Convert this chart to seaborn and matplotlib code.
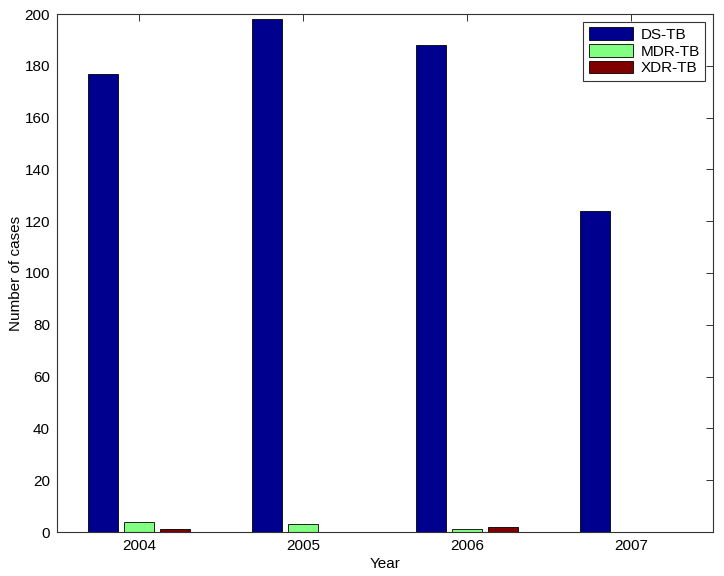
import matplotlib
matplotlib.use("Agg")
import matplotlib.pyplot as plt
import seaborn as sns
import pandas as pd

years = ["2004", "2005", "2006", "2007"]
series = ["DS-TB", "MDR-TB", "XDR-TB"]
ds_tb = [177, 198, 188, 124]
mdr_tb = [4, 3, 1, 0]
xdr_tb = [1, 0, 2, 0]
colors = ["#00008F", "#80FF80", "#800000"]

rows = []
for name, vals in zip(series, [ds_tb, mdr_tb, xdr_tb]):
    for y, v in zip(years, vals):
        rows.append({"Year": y, "Series": name, "Cases": v})
df = pd.DataFrame(rows)

sns.set_style("white")
plt.rcParams["font.family"] = ["Liberation Sans", "DejaVu Sans"]
plt.rcParams["text.color"] = "black"
plt.rcParams["axes.labelcolor"] = "black"
plt.rcParams["xtick.color"] = "#333333"
plt.rcParams["ytick.color"] = "#333333"
plt.rcParams["xtick.labelcolor"] = "black"
plt.rcParams["ytick.labelcolor"] = "black"

fig = plt.figure(figsize=(7.24, 5.76), dpi=100)
ax = fig.add_axes([57/724, 44/576, (713-57)/724, (532-14)/576])

sns.barplot(data=df, x="Year", y="Cases", hue="Series", order=years,
            hue_order=series, palette=colors, width=0.66, gap=0.18,
            edgecolor="black", linewidth=0.6, ax=ax, saturation=1, errorbar=None)

ax.set_xlim(-0.5, 3.5)
ax.set_ylim(0, 200)
ax.set_yticks(range(0, 201, 20))
ax.set_xlabel("Year", fontsize=11, labelpad=3)
ax.set_ylabel("Number of cases", fontsize=11, labelpad=1)
ax.tick_params(axis="both", labelsize=11, length=5, width=0.7,
               top=True, right=True, direction="in", pad=5)
for s in ax.spines.values():
    s.set_color("#333333")
    s.set_linewidth(0.8)

leg = ax.legend(loc="upper right", fontsize=11, frameon=True, fancybox=False,
                edgecolor="black", handlelength=2.9, handleheight=0.9,
                borderaxespad=0.5, labelspacing=0.15, handletextpad=0.5,
                borderpad=0.35)
leg.get_frame().set_linewidth(0.8)
for t in leg.get_texts():
    t.set_color("black")

fig.savefig("out.png", dpi=100)
